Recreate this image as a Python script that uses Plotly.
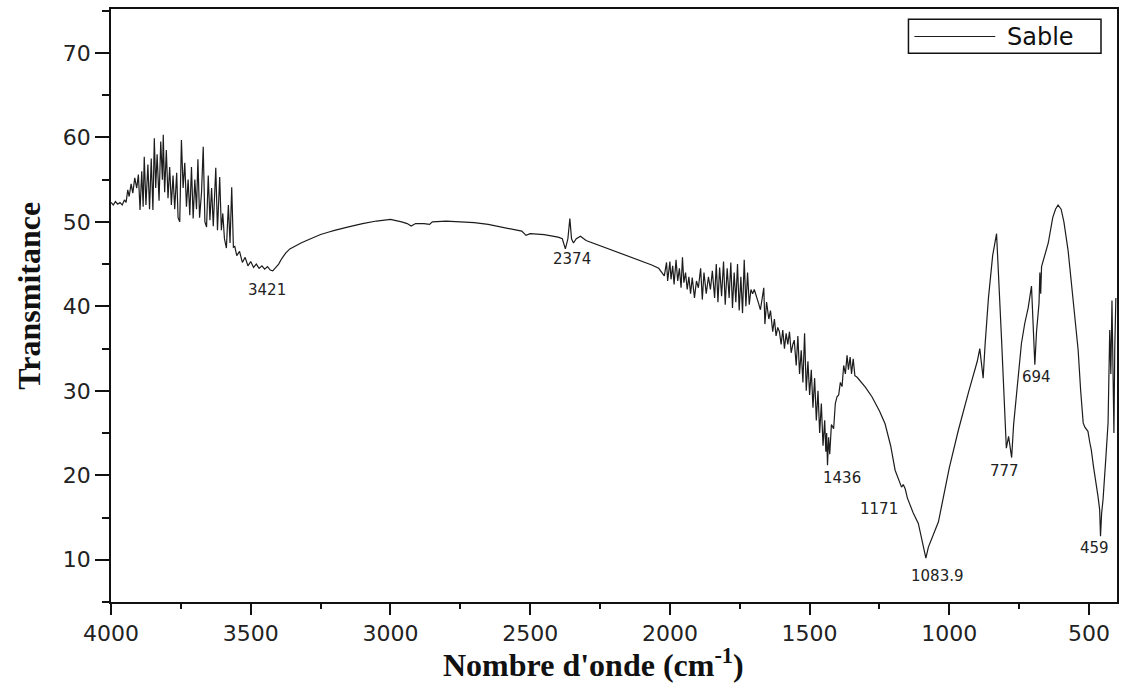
import numpy as np
import plotly.graph_objects as go

# FTIR spectrum of the sand sample (wavenumber in cm-1, transmittance)
wavenumber = [
    4000, 3992, 3984, 3976, 3968, 3960, 3952, 3946, 3940, 3935,
    3928, 3922, 3915, 3908, 3902, 3896, 3890, 3885, 3881, 3875,
    3868, 3862, 3856, 3850, 3845, 3840, 3835, 3828, 3822, 3816,
    3813, 3808, 3802, 3796, 3790, 3784, 3778, 3772, 3765, 3760,
    3754, 3748, 3742, 3736, 3730, 3724, 3718, 3712, 3706, 3700,
    3694, 3689, 3683, 3676, 3670, 3664, 3658, 3652, 3646, 3640,
    3634, 3628, 3625, 3619, 3614, 3611, 3605, 3600, 3594, 3587,
    3580, 3574, 3568, 3562, 3557, 3550, 3540, 3530, 3520, 3510,
    3500, 3490, 3480, 3470, 3460, 3450, 3440, 3430, 3421, 3410,
    3400, 3390, 3375, 3360, 3340, 3320, 3300, 3280, 3250, 3220,
    3200, 3150, 3100, 3050, 3000, 2960, 2940, 2926, 2910, 2880,
    2860, 2850, 2800, 2750, 2700, 2650, 2600, 2560, 2530, 2515,
    2500, 2450, 2400, 2385, 2374, 2365, 2358, 2352, 2345, 2335,
    2320, 2300, 2250, 2200, 2150, 2100, 2065, 2040, 2020, 2012,
    2008, 2000, 1996, 1990, 1985, 1978, 1972, 1966, 1960, 1955,
    1950, 1944, 1938, 1932, 1926, 1920, 1912, 1905, 1898, 1890,
    1884, 1878, 1870, 1862, 1855, 1848, 1840, 1834, 1828, 1822,
    1815, 1808, 1802, 1795, 1788, 1782, 1776, 1770, 1764, 1758,
    1752, 1746, 1740, 1734, 1728, 1722, 1716, 1710, 1704, 1698,
    1690, 1684, 1676, 1670, 1664, 1660, 1654, 1646, 1640, 1632,
    1626, 1620, 1614, 1608, 1602, 1596, 1590, 1584, 1578, 1572,
    1566, 1560, 1555, 1548, 1542, 1536, 1530, 1524, 1518, 1512,
    1506, 1500, 1494, 1488, 1482, 1476, 1470, 1464, 1458, 1452,
    1446, 1442, 1439, 1436, 1432, 1428, 1422, 1414, 1408, 1402,
    1396, 1390, 1384, 1378, 1372, 1366, 1361, 1355, 1350, 1344,
    1338, 1330, 1320, 1300, 1277, 1250, 1230, 1210, 1194, 1180,
    1171, 1165, 1158, 1150, 1130, 1111, 1095, 1083.9, 1075, 1060,
    1039, 1000, 968, 930, 900, 891, 885, 879, 872, 860,
    845, 831, 813, 796, 788, 777, 770, 762, 754, 742,
    730, 718, 706, 700, 694, 688, 679, 676, 673, 670,
    660, 646, 630, 620, 611, 600, 590, 575, 563, 550,
    539, 530, 521, 515, 504, 498, 492, 484, 474, 468,
    462, 459, 455, 450, 440, 432, 426, 422, 418, 414,
    411, 408, 404,
]

transmittance = [
    52.3, 52.0, 52.4, 52.1, 52.3, 52.0, 52.6, 52.3, 53.8, 53.0,
    54.5, 53.4, 55.2, 54.0, 55.6, 51.4, 56.0, 51.8, 57.7, 52.0,
    56.8, 51.5, 57.5, 51.4, 59.9, 54.0, 58.0, 52.5, 59.5, 55.0,
    60.3, 53.5, 58.5, 52.8, 56.5, 52.0, 55.5, 51.5, 55.8, 50.5,
    50.0, 59.7, 54.0, 57.0, 51.8, 55.0, 50.8, 56.5, 50.4, 55.0,
    51.5, 57.4, 50.5, 53.5, 58.9, 50.0, 49.4, 55.5, 50.2, 54.0,
    49.5, 53.5, 56.4, 49.0, 52.5, 55.3, 49.0, 51.0, 48.0, 46.9,
    52.0, 47.5, 54.1, 47.0, 47.1, 46.0, 46.5, 45.2, 45.8, 44.8,
    45.3, 44.6, 45.0, 44.5, 44.8, 44.4, 44.7, 44.3, 44.2, 44.6,
    45.0, 45.6, 46.3, 46.8, 47.2, 47.5, 47.8, 48.1, 48.5, 48.8,
    49.0, 49.4, 49.8, 50.1, 50.3, 50.0, 49.8, 49.5, 49.8, 49.8,
    49.7, 50.0, 50.1, 50.0, 49.9, 49.7, 49.4, 49.1, 48.9, 48.4,
    48.6, 48.5, 48.2, 48.0, 46.8, 48.0, 50.4, 48.0, 47.5, 48.0,
    48.3, 47.8, 47.2, 46.6, 46.0, 45.4, 44.9, 44.5, 43.6, 45.2,
    43.0, 45.3, 43.2, 44.8, 42.6, 45.5, 43.0, 44.5, 42.2, 45.8,
    42.8, 44.0, 42.0, 43.5, 41.5, 43.4, 41.0, 43.0, 42.2, 44.5,
    40.8, 44.0, 41.5, 43.5, 42.0, 44.2, 41.0, 45.0, 40.5, 44.6,
    41.2, 45.3, 40.2, 44.5, 41.0, 45.2, 39.8, 44.0, 40.5, 45.0,
    39.5, 43.5, 39.2, 45.5, 40.0, 44.0, 40.2, 42.0, 41.5, 42.0,
    41.0, 40.5, 39.6, 41.0, 42.2, 37.9, 40.5, 38.5, 39.5, 37.0,
    38.5, 36.5, 37.5, 37.0, 35.5, 37.2, 35.0, 36.8, 35.5, 37.0,
    34.5, 35.5, 36.0, 33.0, 36.5, 32.0, 34.8, 31.0, 36.8, 30.0,
    33.5, 29.5, 32.5, 28.0, 31.5, 26.5, 30.0, 25.0, 28.5, 23.5,
    26.5, 22.8, 25.0, 21.2, 24.5, 22.5, 26.0, 25.5, 28.5, 29.3,
    29.5, 31.0, 30.5, 33.0, 32.0, 34.2, 32.5, 34.0, 32.0, 33.8,
    31.8, 31.6, 31.2, 30.4, 29.3, 27.6, 26.1, 23.5, 20.6, 19.5,
    18.6, 18.9, 18.4, 17.3, 15.6, 14.3, 11.8, 10.2, 11.5, 12.8,
    14.5, 20.9, 25.3, 30.0, 33.5, 35.0, 33.0, 31.5, 35.5, 41.0,
    46.0, 48.6, 36.0, 23.2, 24.6, 22.1, 26.0, 29.0, 31.3, 35.6,
    38.0, 39.8, 42.4, 38.0, 33.1, 37.0, 40.4, 44.0, 41.5, 44.7,
    46.0, 47.5, 50.5, 51.5, 52.0, 51.5, 50.0, 46.6, 42.7, 38.5,
    34.8, 30.0, 26.2, 25.7, 25.2, 24.0, 23.0, 21.0, 19.1, 17.5,
    15.9, 12.8, 15.5, 17.1, 22.0, 26.2, 37.2, 32.0, 40.7, 30.0,
    25.0, 35.0, 41.0,
]

# Labelled absorption bands and the pixel offset of each label from its band
peak_wn = [3421, 2374, 1436, 1171, 1083.9, 777, 694, 459]
peak_text = ["3421", "2374", "1436", "1171", "1083.9", "777", "694", "459"]
label_dx = [-6, 7, 14, -23, 12, -7, 2, -6]
label_dy = [-19, -10, -13, -22, -18, -13, -12, -12]

x_ticks = [4000, 3500, 3000, 2500, 2000, 1500, 1000, 500]
y_ticks = [10, 20, 30, 40, 50, 60, 70]

wn_arr = np.array(wavenumber, dtype=float)
t_arr = np.array(transmittance, dtype=float)

fig = go.Figure()
fig.add_trace(go.Scatter(
    x=wn_arr, y=t_arr, mode="lines", name="Sable",
    line=dict(color="#1c1c1c", width=1.2),
    showlegend=False,
))

# Band labels anchored on the spectrum
for wn, txt, dx, dy in zip(peak_wn, peak_text, label_dx, label_dy):
    t_val = float(np.interp(wn, wn_arr[::-1], t_arr[::-1]))
    fig.add_annotation(
        x=wn, y=t_val, text=txt, showarrow=False,
        xanchor="center", yanchor="middle", xshift=dx, yshift=dy,
        font=dict(family="DejaVu Sans", size=15, color="#222"),
    )

# Axis titles
fig.add_annotation(
    xref="paper", yref="paper", x=0.480, y=-0.103,
    text="<b>Nombre d'onde (cm<sup>-1</sup>)</b>", showarrow=False,
    xanchor="center", yanchor="middle",
    font=dict(family="Liberation Serif", size=32, color="#111"),
)
fig.add_annotation(
    xref="paper", yref="paper", x=-0.0813, y=0.517,
    text="<b>Transmitance</b>", showarrow=False, textangle=-90,
    xanchor="center", yanchor="middle",
    font=dict(family="Liberation Serif", size=32, color="#111"),
)

# Legend box
fig.add_shape(type="rect", xref="paper", yref="paper",
              x0=0.7927, x1=0.9841, y0=0.9253, y1=0.9826,
              line=dict(color="#111", width=1.5), fillcolor="white")
fig.add_shape(type="line", xref="paper", yref="paper",
              x0=0.7986, x1=0.879, y0=0.9536, y1=0.9536,
              line=dict(color="#1c1c1c", width=1.2))
fig.add_annotation(
    xref="paper", yref="paper", x=0.8889, y=0.9536, text="Sable",
    showarrow=False, xanchor="left", yanchor="middle",
    font=dict(family="DejaVu Sans", size=24, color="#111"),
)

axis_font = dict(family="DejaVu Sans", size=22, color="#222")
fig.update_xaxes(
    range=[4000, 400], tickmode="array", tickvals=x_ticks,
    ticks="outside", ticklen=11, tickwidth=1.5, tickcolor="#111",
    minor=dict(dtick=250, tick0=0, ticks="outside", ticklen=5, tickwidth=1.5, tickcolor="#111"),
    showline=True, linecolor="#111", linewidth=1.8, mirror=True,
    showgrid=False, zeroline=False, tickfont=axis_font,
)
fig.update_yaxes(
    range=[5, 75.2], tickmode="array", tickvals=y_ticks,
    ticks="outside", ticklen=14, tickwidth=1.5, tickcolor="#111",
    minor=dict(dtick=5, tick0=0, ticks="outside", ticklen=7, tickwidth=1.5, tickcolor="#111"),
    showline=True, linecolor="#111", linewidth=1.8, mirror=True,
    showgrid=False, zeroline=False, tickfont=axis_font,
)
fig.update_layout(
    width=1123, height=686,
    margin=dict(l=111, r=4, t=9, b=84),
    paper_bgcolor="white", plot_bgcolor="white",
    showlegend=False,
)

fig.write_html("out.html")
